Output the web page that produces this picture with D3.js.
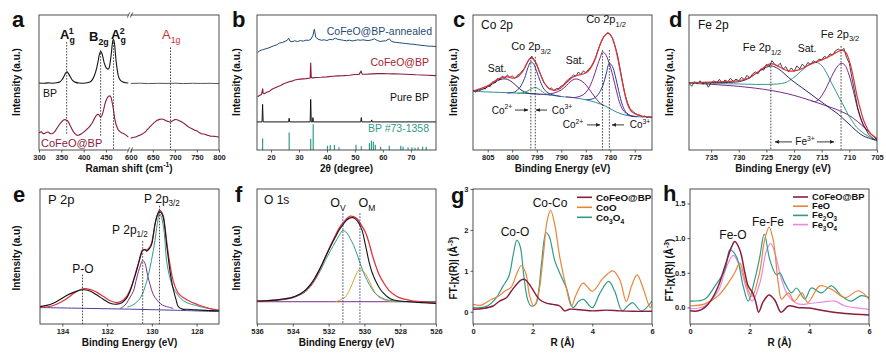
<!DOCTYPE html>
<html><head><meta charset="utf-8">
<script src="https://cdn.jsdelivr.net/npm/d3@7"></script>
<style>body{margin:0;background:#fff}svg{display:block}text{font-family:"Liberation Sans",Arial,sans-serif}</style>
</head><body><svg id="c" width="886" height="357"></svg>
<script>
// ---------------- DATA ----------------
// (a) Raman, intensity in a.u. (% of frame)
const ramanTicksLeft = [300,350,400,450];
const ramanTicksRight = [600,650,700,750,800];
const ramanBPLeft = [[300,49.6],[310,49.4],[320,49.7],[330,49.5],[340,49.8],[347,50.6],[352,52.2],[356,54.6],[360,57.2],[363,57.9],[366,56.6],[370,54.3],[375,51.6],[382,50.1],[390,49.6],[400,49.5],[408,49.8],[415,50.6],[420,52.3],[425,56],[429,60.5],[432,65.1],[435,70.4],[438,72.9],[440,72.2],[443,69],[446,64.5],[450,61.2],[454,59.9],[457,60.8],[460,66.4],[462,71.5],[464,78],[466,81.6],[467,81.9],[469,79],[471,72],[473,65],[475,59.9],[478,54.5],[482,51.8],[488,50.4],[495,49.8],[500,49.6]];
const ramanBPRight = [[600,49.3],[620,49.5],[640,49.2],[660,49.4],[680,49.3],[700,49.5],[720,49.2],[740,49.4],[760,49.3],[780,49.4],[800,49.2]];
const ramanCFLeft = [[300,12.7],[305,13.4],[310,12.1],[315,12.8],[320,13.3],[325,12.3],[330,12.1],[335,13.5],[340,16],[345,18.5],[350,20.7],[355,22.2],[358,22.5],[362,22],[365,21.2],[370,18],[375,14.7],[380,12.3],[385,10.9],[390,11.2],[395,12.1],[400,13.2],[405,14.7],[410,16.2],[415,18.1],[420,20.6],[425,23.8],[429,25.8],[432,26.4],[435,25.8],[438,24.3],[441,25.5],[445,30.2],[448,34.5],[452,38],[455,39.6],[458,40.1],[461,39.2],[464,35],[466,31.5],[468,27],[470,22.5],[473,18.5],[476,16],[480,14],[485,12.8],[490,12.1],[495,11],[500,9.6]];
const ramanCFRight = [[600,8.8],[605,9.3],[610,9.6],[615,10.2],[620,10.9],[625,11.6],[630,12.7],[635,14.2],[640,16],[645,17.7],[650,19.4],[655,20.8],[660,22],[665,22.7],[670,23],[675,22.6],[680,21.6],[685,21.1],[690,20.7],[695,21.6],[700,22.5],[705,22.4],[710,21.7],[715,20.9],[720,19.9],[725,18.6],[730,17.3],[735,16.4],[740,15.5],[745,14.7],[750,14],[755,13],[760,12.1],[765,11.8],[770,11.4],[775,10.8],[780,10.3],[785,10.2],[790,10.1],[795,9.8],[800,9.6]];
const ramanMarks = [[362,80,12],[438,74,10],[467,82,0],[690,76,0]]; // position, top, bottom

// (b) XRD
const xrdTicks = [20,30,40,50,60,70];
const xrdStd = [[17.0,8.6],[26.5,13],[34.2,8.1],[35.1,19.1],[40.2,3.2],[41.2,3.7],[42.7,3.7],[44.3,2],[50.4,3.9],[52.3,2.7],[55.2,5.1],[55.9,6.9],[56.6,6.1],[57.3,3.9],[59.2,2.5],[62.3,3.2],[66.4,3.2],[67.2,2.5],[69.0,2],[70.4,2],[71.5,1.7],[72.6,2],[74.2,2.5],[75.5,2.2]];
const xrdPure = [[15,20.8],[16.8,20.8],[17.0,33.8],[17.2,20.8],[26.3,20.8],[26.5,23.5],[26.7,20.8],[34.0,20.8],[34.2,37.5],[34.4,20.8],[34.85,20.8],[35.0,24],[35.15,20.8],[52.1,20.8],[52.3,24],[52.5,20.8],[55.8,20.8],[56,22.3],[56.2,20.8],[79,20.8]];
const xrdCF = [[15.2,39.5],[16,40.6],[16.6,41.2],[16.9,44],[17.05,45.3],[17.2,42],[17.6,41.7],[18.5,42.8],[19.5,43.6],[20.5,45.2],[21.5,46.1],[22.5,47],[23.5,47.8],[24.5,49.1],[25.5,49.8],[26.5,50.6],[27.5,51],[28.5,51.8],[29.5,52.2],[30.5,52.5],[31.5,52.7],[32.5,52.9],[33.5,53.2],[34.0,53.3],[34.2,64.5],[34.4,53.6],[35,53.4],[36,53.7],[38,53.9],[40,54.2],[42,54.6],[44,54.9],[46,55.1],[48,55.4],[50,55.9],[51.5,56],[52.2,58.5],[52.6,56.2],[54,56.1],[56,56.4],[58,56.6],[60,56.6],[62,56.5],[64,56.4],[66,56.3],[68,56.1],[70,55.9],[72,55.7],[74,55.6],[76,55.4],[79,55.1]];
const xrdAnn = [[15.2,72.3],[16,73.5],[17,74.3],[18,74.9],[19,75.5],[20,76.3],[21,77.2],[22,77.8],[23,79.2],[24,79.6],[25,80.4],[25.8,81.2],[26.3,82.8],[26.8,80.6],[27.5,80.2],[28.5,80.9],[29.5,80.3],[30.5,81.1],[31.5,80.6],[32.5,81.4],[33.5,81.2],[34.3,82.1],[35.0,85],[35.5,89.5],[36.0,83.5],[36.8,82.1],[38,81.3],[39,81.6],[40,81.1],[41,81.9],[42,81.7],[43,82.8],[44,81.9],[45,81.6],[46,81.2],[47,80.9],[48,81.4],[49,80.8],[50,81.1],[51,81.6],[52,81.3],[53,81.6],[54,81.2],[55,81.1],[56,81.6],[57,82.4],[58,81.1],[59,80.4],[60,80.7],[61,80.9],[62.3,82.4],[63,80.6],[64,79.9],[65,79.6],[66,79.4],[67,79.2],[68,78.9],[69,78.7],[70,78.4],[71,78.3],[72,78.0],[73,77.7],[74,77.5],[75,77.3],[76,77],[77,76.9],[78,76.8],[79,76.7]];

// (c) Co 2p XPS
const coTicks = [805,800,795,790,785,780,775];
const coBg = [[808,43.5],[805,43],[800,42.3],[795,41.5],[792,40.6],[790,39.6],[787,38.5],[785,37.2],[783,35.3],[781,32.5],[779.5,29.5],[778,27],[776,25.2],[774,24.6],[771.5,24.2]];
const coSat1 = [[808,43.6],[806,45],[805,46.8],[804,49],[803,51.3],[802,52.6],[801,52.4],[800,50.2],[799,47],[798,44],[797,42.3],[796,41.7],[795,41.5]];
const coP32a = [[801,42.2],[799.5,43],[798.5,46],[797.5,53],[796.8,61],[796.2,65.3],[795.6,63.5],[795,58],[794.3,51],[793.5,45],[792.5,41.8],[791,40.3],[790,39.6]];
const coP32b = [[799,42],[798,42.3],[797,43.5],[796,45.5],[795.3,46.3],[794.6,45.3],[793.8,43],[793,41.3],[792,40.5]];
const coSat2 = [[795,41.5],[793,41.2],[791.5,42.2],[790,44.5],[789,47.5],[788,51],[787.2,52.6],[786.3,52],[785.3,49.5],[784.3,45],[783.3,40],[782.3,35.5],[781.3,32.8]];
const coP12a = [[789,39.4],[787,39],[785.5,41],[784.5,45],[783.5,53],[782.7,62],[782,69],[781.6,72.6],[781,71],[780.3,65],[779.5,55],[778.7,43],[778,34],[777.2,28.5],[776.2,25.8],[775,25]];
const coP12b = [[785,37.3],[783.5,38],[782.5,41],[781.5,48],[780.8,57],[780.2,64.2],[779.6,62],[779,55],[778.3,44],[777.5,33],[776.7,27.5],[775.7,25.2],[774.5,24.6]];
const coFit = [[808,43.6],[806.5,45.5],[805,47.5],[804,50],[803,52.3],[802,53.8],[801,54.2],[800,53.2],[799,54],[798,57.5],[797.2,63],[796.5,67.5],[796,68],[795.3,65.5],[794.5,58.5],[793.5,50],[792.5,45.5],[791.5,44.2],[790.5,45],[789.5,48],[788.5,51.5],[787.5,54.2],[786.5,55.5],[785.5,56.3],[784.5,58.5],[783.5,64],[782.7,71.5],[782,79],[781.3,84],[780.6,86.3],[780,85.5],[779.3,80],[778.6,70],[777.9,57],[777.2,44],[776.5,34],[775.8,29],[775,26.8],[774,25.5],[773,24.8],[771.5,24.3]];
const coRaw = [[808,44.5],[807.5,42.8],[807,44.9],[806.5,44.2],[806,46.3],[805.5,45.1],[805,47.8],[804.5,47],[804,50.5],[803.5,49.6],[803,52.9],[802.5,52.1],[802,54.8],[801.5,53.2],[801,55.6],[800.5,53.8],[800,54.9],[799.5,53.1],[799,55.2],[798.5,56.2],[798,58.4],[797.5,60.3],[797,64.2],[796.5,67.1],[796,69.5],[795.5,66.4],[795,63.3],[794.5,58.1],[794,54.2],[793.5,49.4],[793,47.8],[792.5,45.2],[792,45.9],[791.5,44.1],[791,45.4],[790.5,45.6],[790,47.5],[789.5,48.3],[789,50.9],[788.5,52.4],[788,53.8],[787.5,55.6],[787,54.7],[786.5,57.8],[786,55.9],[785.5,58.6],[785,57.1],[784.5,59.7],[784,61.2],[783.5,64.5],[783,68.3],[782.5,74.2],[782,78.5],[781.5,83.1],[781,85.4],[780.5,87.1],[780,85.3],[779.5,82.4],[779,76.5],[778.5,69.8],[778,60.1],[777.5,50.3],[777,41.2],[776.5,35.1],[776,30.8],[775.5,28.9],[775,27.4],[774.5,26.1],[774,25.9],[773.5,24.6],[773,25.2],[772.5,24.1],[772,24.7],[771.5,23.9]];
const coMarks = [[796.2,69],[795.3,69],[781.6,74],[780.2,74]];

// (d) Fe 2p XPS
const feTicks = [735,730,725,720,715,710,705];
const feRaw = [[739,49.4],[738.5,47.2],[738,50.6],[737.5,49.1],[737,51.3],[736.5,48.8],[736,50.2],[735.5,46.5],[735,49.9],[734.5,51.2],[734,50],[733.5,52.3],[733,49.5],[732.5,51.8],[732,50.6],[731.5,53.1],[731,50.8],[730.5,52.5],[730,51.2],[729.5,53.8],[729,52.1],[728.5,55.3],[728,53.2],[727.5,56.4],[727,57.8],[726.5,56.5],[726,60.2],[725.5,59.1],[725,63.5],[724.5,61.8],[724,66.2],[723.5,63.4],[723,62.1],[722.5,64.3],[722,59.8],[721.5,61.7],[721,57.9],[720.5,60.8],[720,58.2],[719.5,62.3],[719,60.1],[718.5,63.6],[718,61.4],[717.5,64.8],[717,63.2],[716.5,66.1],[716,64.5],[715.5,67.3],[715,66.8],[714.5,69.4],[714,68.1],[713.5,71.2],[713,70.4],[712.5,73.6],[712,74.8],[711.5,73.2],[711,75.3],[710.5,68.5],[710,64.2],[709.5,52.6],[709,42.3],[708.5,31.2],[708,24.5],[707.5,18.6],[707,15.2],[706.5,11.4],[706,9.8],[705.5,7.5],[705.2,9.1],[705,6.5]];
const feFit = [[739,50],[735,50.3],[731,51],[729,52.2],[727.5,55],[726,59.5],[725,62.5],[724.2,64],[723,62.5],[722,60],[721,58.6],[720,58.6],[719,59.5],[718,61.5],[717,63.5],[716,65.3],[715,66.8],[714,68.6],[713,70.8],[712,73],[711.3,74],[710.6,72],[710,66],[709.5,58],[709,48],[708.5,38],[708,30],[707.5,23],[707,18],[706.5,14],[706,11.5],[705,8.5]];
const feBg = [[739,49.4],[735,48.7],[731,47.5],[727,45.8],[724,44],[721,41.5],[718,38],[716,35.3],[714,32.5],[712,29.5],[710,25.5],[708.5,21],[707,15.5],[706,11.5],[705,8]];
const feP32 = [[717,36.8],[716.3,35.8],[715.5,37.5],[714.8,41.5],[714,47.5],[713.2,54.5],[712.4,60.5],[711.7,63.8],[711.3,64.2],[710.8,62.8],[710.2,57.5],[709.6,49],[709,39],[708.4,29],[707.8,21.5],[707,15.5],[706,11.5],[705,8]];
const feP12 = [[739,50],[735,50],[731,50.2],[729.5,51],[728,53.5],[727,56.5],[726,59],[725,61.3],[724.2,62.3],[723.2,61],[722.3,58.5],[721.5,55.6],[720.5,52],[719.2,48],[718,44.5],[716.2,39],[714.5,34],[713.2,30],[712,26.5],[710.8,22],[709.6,17.5],[708.4,13],[707.5,10.5],[706.6,9],[705.1,7]];
const feSat = [[739,49.4],[735,49.2],[731,49],[729,48.8],[727,48.6],[725,48.6],[723,48.9],[721.6,49.9],[720.8,51.6],[719.8,54.5],[718.9,57.8],[718,61],[717.2,63.6],[716.5,64.8],[715.9,65],[715.2,63.3],[714.7,61],[714,56.2],[713.2,49.4],[712.4,43.2],[711.7,37.7],[711,32.5],[710.2,26],[709.4,21],[708.7,16.9],[707.9,14],[707.2,11.7],[706.2,9.4],[705.4,7.8],[705,7.3]];
const feMarks = [[724.2,64],[711.5,77]];

// (e) P 2p XPS
const pTicks = [134,132,130,128];
const pRaw = [[135.0,12.9],[134.7,13.8],[134.41,15.4],[134.12,18],[133.81,21.1],[133.47,23.6],[133.1,25.4],[132.77,24.5],[132.47,21.6],[132.16,18.2],[131.87,15.4],[131.57,14.7],[131.34,15.8],[131.13,19.2],[130.97,24.5],[130.83,31.6],[130.72,37.5],[130.61,44],[130.5,50.5],[130.41,54.5],[130.31,55],[130.23,54],[130.11,55.8],[130.01,59],[129.93,66],[129.86,73.9],[129.76,80.5],[129.66,83.3],[129.57,82],[129.49,78.9],[129.41,70],[129.34,59],[129.26,48],[129.19,39],[129.11,31],[129.04,25.4],[128.92,18],[128.82,12.9],[128.63,11],[128.44,10.9],[128.14,10.6],[127.85,10.3],[127.48,10],[127.11,9.8],[127.0,9.7]];
const pFit = [[135.0,12.2],[134.41,13.7],[133.81,18.7],[133.47,23],[133.1,26.1],[132.73,25.5],[132.47,23.6],[132.16,20.3],[131.87,17.2],[131.57,15.9],[131.34,17],[131.13,20.4],[130.97,25.5],[130.83,32.1],[130.61,44.5],[130.41,55],[130.23,55],[130.11,56.5],[130.01,60.2],[129.86,73.9],[129.76,80.5],[129.66,84.3],[129.57,83],[129.49,80.1],[129.41,71.5],[129.34,61.4],[129.19,44],[129.04,31.6],[128.82,22.9],[128.44,17.9],[127.85,13.7],[127.11,10.4],[127.0,10.2]];
const pP32 = [[131.09,12.5],[130.84,14.2],[130.52,19.2],[130.23,31.6],[130.02,47],[129.86,62],[129.76,74],[129.66,81.8],[129.57,79],[129.45,68],[129.34,46.5],[129.19,34],[129.04,26.6],[128.59,17.2],[127.85,12.9],[127.11,10.4],[127.0,10.1]];
const pP12 = [[131.42,11.5],[131.28,12.9],[131.13,15.4],[130.97,20],[130.83,24.1],[130.68,34],[130.52,43],[130.41,47],[130.31,45],[130.19,36],[130.08,29.1],[129.94,22],[129.78,17.9],[129.53,14],[129.34,12.9],[129.04,11.5]];
const pBg = [[135,12.2],[133,11.6],[131,11],[129,10.2],[127,9.2]];
const pMarks = [[133.1,36.6],[130.41,61.4],[129.66,87.6]];

// (f) O 1s XPS
const oTicks = [536,534,532,530,528,526];
const oRaw = [[536,17],[535.5,17.2],[534.98,17.7],[534.5,18.5],[534.04,19.7],[533.65,21.8],[533.3,25.1],[533.0,29.5],[532.74,34.9],[532.45,42],[532.18,49.6],[531.9,57.2],[531.62,64.4],[531.4,69.8],[531.16,74.2],[530.97,77.2],[530.79,78.6],[530.65,78.8],[530.51,77.9],[530.3,74.5],[530.13,69.3],[529.95,59],[529.76,47.2],[529.58,38.5],[529.39,32.4],[529.15,26.5],[528.92,22.6],[528.7,20],[528.46,18.2],[528,17],[527.53,16.5],[526.8,15.8],[526,15.2]];
const oFit = [[536,17],[535,17.6],[534.04,19.7],[533.65,21.5],[533.3,24.6],[533.0,28.8],[532.74,33.7],[532.45,41.5],[532.18,49.6],[531.9,57.9],[531.62,65.6],[531.4,71.2],[531.16,75.4],[530.97,78.4],[530.79,79.9],[530.6,79.6],[530.41,77.9],[530.2,73.8],[529.95,68.1],[529.75,60.5],[529.58,52.1],[529.4,44.5],[529.2,37.3],[528.9,30],[528.64,25.1],[528.35,21.8],[528.09,19.7],[527.7,18.2],[527.34,17.2],[526.7,16.3],[526,15.7]];
const oV = [[536,17],[535,17.3],[534.04,19.2],[533.65,21.2],[533.3,23.8],[533.0,27.8],[532.74,32.9],[532.45,39.8],[532.18,47.2],[531.9,54.2],[531.62,60.7],[531.4,65.8],[531.21,69.3],[531.1,68.8],[530.97,67.3],[530.8,63.5],[530.6,58.2],[530.4,51.2],[530.23,44.7],[530.05,38.2],[529.85,32.4],[529.6,26.5],[529.39,22.6],[529.1,19.8],[528.83,18.2],[528.4,17.2],[528.09,16.7],[527,16.5],[526,16.5]];
const oM = [[531.62,16.5],[531.35,17.8],[531.06,20.1],[530.82,25.5],[530.6,32.4],[530.45,37],[530.28,40.3],[530.12,39.5],[529.95,37.3],[529.75,32.4],[529.58,27.5],[529.4,23.1],[529.2,20.1],[528.9,18],[528.64,17],[528.09,16.5]];
const oBg = [[536,16.5],[526,16.5]];
const oMarks = [[531.2,82],[530.25,82]];

// (g) Co K-edge FT-EXAFS
const gTicksX = [0,2,4,6], gTicksY = [0,1,2,3];
const gSeriesNames = ["CoFeO@BP","CoO","Co3O4"];
const gCF = [[0,0.06],[0.34,0.08],[0.67,0.14],[0.89,0.26],[1.12,0.34],[1.28,0.5],[1.45,0.66],[1.62,0.78],[1.73,0.79],[1.9,0.66],[2.07,0.46],[2.23,0.3],[2.46,0.21],[2.68,0.18],[2.91,0.14],[3.07,0.02],[3.24,0.06],[3.58,0.05],[4.02,0.02],[4.47,0.04],[4.92,0.02],[5.36,0.01],[6,0.01]];
const gCoO = [[0,0.18],[0.28,0.16],[0.61,0.3],[0.84,0.37],[1.06,0.5],[1.28,0.6],[1.45,0.9],[1.62,1.13],[1.77,0.94],[1.9,0.38],[2.04,0.14],[2.18,0.38],[2.35,1.33],[2.48,2.2],[2.6,2.48],[2.74,2.13],[2.91,1.33],[3.13,0.58],[3.3,0.14],[3.46,0.42],[3.69,0.7],[4.0,0.5],[4.36,0.82],[4.69,1.0],[4.92,0.78],[5.14,0.25],[5.31,0.62],[5.5,0.9],[5.7,0.58],[5.94,0.1],[6,0.18]];
const gCo3O4 = [[0,0.1],[0.45,0.13],[0.78,0.34],[1.0,0.62],[1.2,0.86],[1.35,1.4],[1.47,1.75],[1.58,1.6],[1.7,0.9],[1.83,0.3],[1.95,0.14],[2.1,0.18],[2.2,0.5],[2.3,1.2],[2.45,1.93],[2.55,1.85],[2.74,1.25],[2.91,0.94],[3.13,0.58],[3.35,0.1],[3.55,0.26],[3.7,0.3],[4.0,0.1],[4.25,0.45],[4.55,0.74],[4.75,0.5],[5.0,0.02],[5.2,0.15],[5.35,0.22],[5.65,0.02],[6,0.26]];

// (h) Fe K-edge FT-EXAFS
const hTicksX = [0,2,4,6], hTicksY = [0,0.5,1.0,1.5];
const hSeriesNames = ["CoFeO@BP","FeO","Fe2O3","Fe3O4"];
const hCF = [[0,-0.05],[0.28,-0.05],[0.5,0],[0.73,0.12],[0.95,0.31],[1.17,0.59],[1.39,0.87],[1.5,0.95],[1.67,0.83],[1.84,0.5],[1.95,0.31],[2.1,0.21],[2.2,0.09],[2.3,-0.07],[2.45,0.08],[2.65,0.18],[2.85,0.1],[3.05,-0.07],[3.3,0.02],[3.6,0.0],[4.0,-0.01],[4.5,-0.05],[5.2,-0.09],[6,-0.11]];
const hFeO = [[0,0.02],[0.5,0.05],[0.95,0.17],[1.28,0.35],[1.5,0.5],[1.67,0.64],[1.84,0.4],[1.95,0.25],[2.08,0.16],[2.33,0.5],[2.5,0.97],[2.65,1.16],[2.79,0.97],[2.96,0.35],[3.07,0.12],[3.3,0.21],[3.5,0.09],[3.75,0.21],[3.95,0.07],[4.35,0.31],[4.75,0.26],[5.2,0.14],[5.65,0.24],[6,0.12]];
const hFe2O3 = [[0,0.09],[0.5,0.12],[0.84,0.31],[1.17,0.54],[1.34,0.83],[1.56,0.73],[1.78,0.31],[1.95,0.09],[2.17,0.4],[2.34,0.73],[2.49,1.06],[2.68,0.68],[2.9,0.47],[3.01,0.5],[3.18,0.35],[3.4,0.21],[3.57,0.28],[3.85,0.12],[4.07,0.28],[4.4,0.21],[4.74,0.31],[5.07,0.17],[5.4,0.09],[5.74,0.17],[6,0.14]];
const hFe3O4 = [[0,-0.02],[0.5,0.02],[0.95,0.24],[1.23,0.59],[1.45,0.75],[1.67,0.59],[1.9,0.26],[2.08,0.09],[2.34,0.35],[2.57,0.83],[2.71,0.92],[2.85,0.78],[3.07,0.4],[3.29,0.17],[3.62,0.05],[4.07,0.06],[4.5,0.08],[4.85,0.09],[5.2,0.02],[5.65,-0.01],[6,-0.03]];

// ---------------- DRAWING ----------------
const svg = d3.select('#c');
const C = {black:'#141414', red:'#e3303a', maroon:'#8c1c3c', teal:'#2f9c8a', purple:'#7b2a8e', navy:'#25296e', green:'#3aa36a', orange:'#e8853a', pink:'#e58be2', ann:'#1f4c78', bgc:'#2d8b98'};
const defs = svg.append('defs');
defs.append('marker').attr('id','arr').attr('viewBox','0 0 10 10').attr('refX',9).attr('refY',5).attr('markerWidth',5).attr('markerHeight',5).attr('orient','auto')
  .append('path').attr('d','M0,1L10,5L0,9Z').attr('fill','#222');
let clipN = 0;
const TOP = [15,150], BOT = [189,324];

function panel(o){
  const x = d3.scaleLinear().domain(o.xdom).range([o.x0,o.x1]);
  const y = d3.scaleLinear().domain(o.ydom).range([o.y1,o.y0]);
  const id = 'cl'+(clipN++);
  defs.append('clipPath').attr('id',id).append('rect').attr('x',o.x0).attr('y',o.y0).attr('width',o.x1-o.x0).attr('height',o.y1-o.y0);
  const g = svg.append('g');
  const gl = g.append('g').attr('clip-path',`url(#${id})`);
  return {g, gl, x, y, o};
}
function frame(p){
  p.g.append('rect').attr('x',p.o.x0).attr('y',p.o.y0).attr('width',p.o.x1-p.o.x0).attr('height',p.o.y1-p.o.y0)
    .attr('fill','none').attr('stroke','#3a3a3a').attr('stroke-width',0.9);
}
function styleAxis(ga){
  ga.select('.domain').remove();
  ga.selectAll('.tick line').attr('stroke','#333').attr('stroke-width',0.8);
  ga.selectAll('.tick text').attr('font-size',7.5).attr('font-weight','bold').attr('fill','#222').attr('font-family','"Liberation Sans",Arial,sans-serif');
}
function xAxis(p, ticks, fmt, xs){
  const ax = d3.axisBottom(xs||p.x).tickValues(ticks).tickSize(2.5).tickPadding(2).tickFormat(fmt||d3.format('d'));
  const ga = p.g.append('g').attr('transform',`translate(0,${p.o.y1})`).call(ax);
  styleAxis(ga);
}
function yAxis(p, ticks, fmt){
  const ax = d3.axisLeft(p.y).tickValues(ticks).tickSize(2.5).tickPadding(2).tickFormat(fmt);
  const ga = p.g.append('g').attr('transform',`translate(${p.o.x0},0)`).call(ax);
  styleAxis(ga);
}
function xTitle(p, parts){
  rich((p.o.x0+p.o.x1)/2, p.o.y1+21.5, parts, {size:10, anchor:'middle', weight:'bold'});
}
function yTitle(x, yc, parts){
  rich(0,0,parts,{size:10, anchor:'middle', weight:'bold'}).attr('transform',`translate(${x},${yc}) rotate(-90)`);
}
function rich(x, y, parts, o={}){
  const fs = o.size||10;
  const t = svg.append('text').attr('x',x).attr('y',y).attr('font-size',fs).attr('fill',o.color||'#111')
    .attr('text-anchor',o.anchor||'start').attr('font-weight',o.weight||'normal');
  let cur = 0;
  parts.forEach(p=>{
    const [s,type,dx] = Array.isArray(p)?p:[p,'',0];
    const target = type==='sub'? fs*0.32 : type==='sup'? -fs*0.42 : 0;
    const ts = t.append('tspan').text(s).attr('dy', target-cur);
    if(dx) ts.attr('dx',dx);
    if(type) ts.attr('font-size', fs*0.68);
    cur = target;
  });
  return t;
}
function line(p, data, color, w=1, curve=d3.curveCatmullRom.alpha(0.5), xs){
  const xsc = xs||p.x;
  p.gl.append('path').datum(data).attr('fill','none').attr('stroke',color).attr('stroke-width',w)
    .attr('stroke-linejoin','round')
    .attr('d', d3.line().x(d=>xsc(d[0])).y(d=>p.y(d[1])).curve(curve));
}
function vdot(p, xv, top, bot, color, xs){
  const X = (xs||p.x)(xv);
  p.g.append('line').attr('x1',X).attr('x2',X).attr('y1',p.y(top)).attr('y2',p.y(bot))
    .attr('stroke',color||'#333').attr('stroke-width',0.9).attr('stroke-dasharray','1.6,1.4');
}
function arrow(x1,y1,x2,y2){
  svg.append('line').attr('x1',x1).attr('y1',y1).attr('x2',x2).attr('y2',y2).attr('stroke','#222').attr('stroke-width',0.9).attr('marker-end','url(#arr)');
}
function letter(s,x,y){ svg.append('text').attr('x',x).attr('y',y).attr('font-size',22).attr('font-weight','bold').attr('fill','#111').text(s); }

// ===== (a) Raman =====
{
  const o = {x0:39, x1:219, y0:TOP[0], y1:TOP[1], xdom:[300,500], ydom:[0,100]};
  const p = panel(o);
  const xL = d3.scaleLinear().domain([300,500]).range([39,128.3]);
  const xR = d3.scaleLinear().domain([600,800]).range([130.8,219]);
  frame(p);
  p.g.append('rect').attr('x',128.6).attr('y',o.y0-2).attr('width',1.9).attr('height',4).attr('fill','#fff');
  p.g.append('rect').attr('x',128.6).attr('y',o.y1-2).attr('width',1.9).attr('height',4).attr('fill','#fff');
  [o.y0,o.y1].forEach(yy=>{
    [127.3,130.3].forEach(xx=>p.g.append('line').attr('x1',xx).attr('x2',xx+2.4).attr('y1',yy+2.6).attr('y2',yy-2.6).attr('stroke','#333').attr('stroke-width',0.8));
  });
  xAxis(p, ramanTicksLeft, d3.format('d'), xL);
  xAxis(p, ramanTicksRight, d3.format('d'), xR);
  ramanMarks.forEach(m=>{ const xs = m[0]<550?xL:xR; vdot(p, m[0], m[1], m[2], '#333', xs); });
  line(p, ramanBPLeft, C.black, 1.1, d3.curveCatmullRom.alpha(0.5), xL);
  line(p, ramanBPRight, '#555', 1.0, d3.curveLinear, xR);
  line(p, ramanCFLeft, C.maroon, 1.1, d3.curveCatmullRom.alpha(0.5), xL);
  line(p, ramanCFRight, C.maroon, 1.1, d3.curveCatmullRom.alpha(0.5), xR);
  rich(60, p.y(82), ['A',['g','sub'],['1','sup',-6]], {size:13, weight:'bold'});
  rich(89, p.y(80.5), ['B',['2g','sub']], {size:13, weight:'bold'});
  rich(111, p.y(82), ['A',['g','sub'],['2','sup',-6]], {size:13, weight:'bold'});
  rich(162, p.y(82), ['A',['1g','sub']], {size:13, color:'#c8332f'});
  rich(43, p.y(39.5), ['BP'], {size:10.5});
  rich(41, p.y(2.5), ['CoFeO@BP'], {size:11, color:C.maroon});
  xTitle(p, ['Raman shift (cm',['-1','sup'],')']);
  yTitle(20, 82, ['Intensity (a.u.)']);
  letter('a', 12, 27);
}

// ===== (b) XRD =====
{
  const o = {x0:257, x1:436, y0:TOP[0], y1:TOP[1], xdom:[15,79], ydom:[0,100]};
  const p = panel(o);
  frame(p);
  xAxis(p, xrdTicks);
  p.gl.selectAll('line.std').data(xrdStd).join('line').attr('class','std')
    .attr('x1',d=>p.x(d[0])).attr('x2',d=>p.x(d[0])).attr('y1',p.y(0)).attr('y2',d=>p.y(d[1]))
    .attr('stroke',C.teal).attr('stroke-width',1.2);
  line(p, xrdPure, C.black, 1.0, d3.curveLinear);
  line(p, xrdCF, C.maroon, 1.1, d3.curveLinear);
  line(p, xrdAnn, C.ann, 1.0, d3.curveLinear);
  rich(432, 35, ['CoFeO@BP-annealed'], {size:10.5, anchor:'end', color:C.ann});
  rich(429, 66, ['CoFeO@BP'], {size:10.5, anchor:'end', color:'#a3242f'});
  rich(429, 101, ['Pure BP'], {size:10.5, anchor:'end', color:'#111'});
  rich(429, 132, ['BP #73-1358'], {size:10.5, anchor:'end', color:C.teal});
  xTitle(p, ['2θ (degree)']);
  yTitle(240, 82, ['Intensity (a.u.)']);
  letter('b', 232, 27);
}

// ===== (c) Co 2p =====
{
  const o = {x0:473, x1:652, y0:TOP[0], y1:TOP[1], xdom:[808,771.5], ydom:[0,100]};
  const p = panel(o);
  frame(p);
  xAxis(p, coTicks);
  coMarks.forEach(m=>vdot(p, m[0], m[1], 0));
  line(p, coBg, C.bgc, 1.0);
  line(p, coSat1, C.navy, 1.0);
  line(p, coP32a, '#2a3a9a', 1.0);
  line(p, coP32b, C.green, 1.0);
  line(p, coSat2, C.purple, 1.0);
  line(p, coP12a, C.purple, 1.0);
  line(p, coP12b, '#2a3a9a', 1.0);
  line(p, coRaw, C.black, 0.8, d3.curveLinear);
  line(p, coFit, C.red, 1.2);
  rich(481, p.y(89.5), ['Co 2p'], {size:12});
  rich(606, p.y(94), ['Co 2p',['1/2','sub']], {size:11, anchor:'middle'});
  rich(531, p.y(74), ['Co 2p',['3/2','sub']], {size:11, anchor:'middle'});
  rich(497, p.y(57.5), ['Sat.'], {size:10.5, anchor:'middle'});
  rich(575, p.y(63.5), ['Sat.'], {size:10.5, anchor:'middle'});
  const yA = p.y(27), yB = p.y(16);
  rich(502, yA, ['Co',['2+','sup']], {size:10, anchor:'middle'});
  arrow(515, yA-3.5, 528, yA-3.5);
  arrow(547, yA-3.5, 536, yA-3.5);
  rich(562, yA, ['Co',['3+','sup']], {size:10, anchor:'middle'});
  rich(573, yB, ['Co',['2+','sup']], {size:10, anchor:'middle'});
  arrow(587, yB-3.5, 600, yB-3.5);
  arrow(624, yB-3.5, 612, yB-3.5);
  rich(640, yB, ['Co',['3+','sup']], {size:10, anchor:'middle'});
  xTitle(p, ['Binding Energy (eV)']);
  yTitle(457, 82, ['Intensity (a.u.)']);
  letter('c', 453, 27);
}

// ===== (d) Fe 2p =====
{
  const o = {x0:689, x1:877, y0:TOP[0], y1:TOP[1], xdom:[739,705], ydom:[0,100]};
  const p = panel(o);
  frame(p);
  xAxis(p, feTicks);
  feMarks.forEach(m=>vdot(p, m[0], m[1], 0));
  line(p, feBg, C.purple, 1.0);
  line(p, feSat, C.teal, 1.0);
  line(p, feP12, C.navy, 1.0);
  line(p, feP32, C.purple, 1.0);
  line(p, feRaw, C.black, 0.8, d3.curveLinear);
  line(p, feFit, C.red, 1.2);
  rich(698, p.y(90), ['Fe 2p'], {size:12});
  rich(762, p.y(73), ['Fe 2p',['1/2','sub']], {size:11, anchor:'middle'});
  rich(807, p.y(72.5), ['Sat.'], {size:10.5, anchor:'middle'});
  rich(840, p.y(83), ['Fe 2p',['3/2','sub']], {size:11, anchor:'middle'});
  const yF = p.y(6);
  rich(805, yF+3.5, ['Fe',['3+','sup']], {size:10, anchor:'middle'});
  arrow(792, yF, 775, yF);
  arrow(817, yF, 834, yF);
  xTitle(p, ['Binding Energy (eV)']);
  yTitle(673, 82, ['Intensity (a.u.)']);
  letter('d', 669, 27);
}

// ===== (e) P 2p =====
{
  const o = {x0:40, x1:219, y0:BOT[0], y1:BOT[1], xdom:[135,127], ydom:[0,100]};
  const p = panel(o);
  frame(p);
  xAxis(p, pTicks);
  pMarks.forEach(m=>vdot(p, m[0], m[1], 0));
  line(p, pBg, '#4b3f9e', 1.0);
  line(p, pP12, C.purple, 1.0);
  line(p, pP32, C.teal, 1.0);
  line(p, pFit, C.red, 1.2);
  line(p, pRaw, C.black, 1.1);
  rich(48, p.y(89), ['P 2p'], {size:13});
  rich(162, p.y(90), ['P 2p',['3/2','sub']], {size:12, anchor:'middle'});
  rich(130, p.y(67), ['P 2p',['1/2','sub']], {size:12, anchor:'middle'});
  rich(83, p.y(37.5), ['P-O'], {size:12, anchor:'middle'});
  xTitle(p, ['Binding Energy (eV)']);
  yTitle(20, 258, ['Intensity (a.u)']);
  letter('e', 13, 202);
}

// ===== (f) O 1s =====
{
  const o = {x0:257, x1:436, y0:BOT[0], y1:BOT[1], xdom:[536,526], ydom:[0,100]};
  const p = panel(o);
  frame(p);
  xAxis(p, oTicks);
  oMarks.forEach(m=>vdot(p, m[0], m[1], 0, '#2a3a7a'));
  line(p, oBg, C.purple, 1.0, d3.curveLinear);
  line(p, oM, '#e0a030', 1.0);
  line(p, oV, C.teal, 1.0);
  line(p, oFit, C.red, 1.3);
  line(p, oRaw, C.black, 1.1);
  rich(264, p.y(89), ['O 1s'], {size:12});
  rich(338, p.y(86.5), ['O',['V','sub']], {size:12.5, anchor:'middle'});
  rich(367, p.y(86.5), ['O',['M','sub']], {size:12.5, anchor:'middle'});
  xTitle(p, ['Binding Energy (eV)']);
  yTitle(240, 258, ['Intensity (a.u)']);
  letter('f', 235, 202);
}

// ===== (g) Co EXAFS =====
{
  const o = {x0:473, x1:652, y0:BOT[0], y1:BOT[1], xdom:[0,6], ydom:[-0.3,3]};
  const p = panel(o);
  frame(p);
  xAxis(p, gTicksX);
  yAxis(p, gTicksY, d3.format('d'));
  const cols = [C.maroon, C.orange, C.teal];
  line(p, gCo3O4, cols[2], 1.2);
  line(p, gCoO, cols[1], 1.2);
  line(p, gCF, cols[0], 1.4);
  const lab = [['CoFeO@BP'],['CoO'],['Co',['3','sub'],'O',['4','sub']]];
  gSeriesNames.forEach((n,i)=>{
    const yy = 200.5 + i*10;
    svg.append('line').attr('x1',577).attr('x2',592).attr('y1',yy-3.2).attr('y2',yy-3.2).attr('stroke',cols[i]).attr('stroke-width',1.6);
    rich(596, yy, lab[i], {size:9.8, weight:'bold'});
  });
  rich(515, 236, ['Co-O'], {size:12, anchor:'middle'});
  rich(550, 207, ['Co-Co'], {size:12, anchor:'middle'});
  xTitle(p, ['R (Å)']);
  yTitle(457, 268, ['FT-|χ(R)| (Å',['-3','sup'],')']);
  letter('g', 451, 203);
}

// ===== (h) Fe EXAFS =====
{
  const o = {x0:690, x1:869, y0:BOT[0], y1:BOT[1], xdom:[0,6], ydom:[-0.24,1.71]};
  const p = panel(o);
  frame(p);
  xAxis(p, hTicksX);
  yAxis(p, hTicksY, d3.format('.1f'));
  const cols = [C.maroon, C.orange, C.teal, C.pink];
  line(p, hFe3O4, cols[3], 1.2);
  line(p, hFe2O3, cols[2], 1.2);
  line(p, hFeO, cols[1], 1.2);
  line(p, hCF, cols[0], 1.5);
  const lab = [['CoFeO@BP'],['FeO'],['Fe',['2','sub'],'O',['3','sub']],['Fe',['3','sub'],'O',['4','sub']]];
  hSeriesNames.forEach((n,i)=>{
    const yy = 200 + i*9.2;
    svg.append('line').attr('x1',793).attr('x2',808).attr('y1',yy-3).attr('y2',yy-3).attr('stroke',cols[i]).attr('stroke-width',1.6);
    rich(812, yy, lab[i], {size:9.3, weight:'bold'});
  });
  rich(733, 239, ['Fe-O'], {size:12, anchor:'middle'});
  rich(768, 226, ['Fe-Fe'], {size:12, anchor:'middle'});
  xTitle(p, ['R (Å)']);
  yTitle(673, 270, ['FT-|χ(R)| (Å',['-3','sup'],')']);
  letter('h', 663, 201);
}
</script></body></html>
